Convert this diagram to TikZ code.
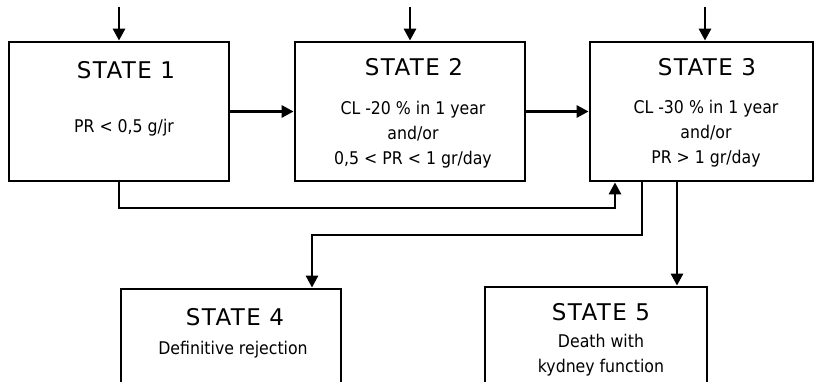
\documentclass[tikz,border=0pt]{standalone}
\usepackage{fontspec}
\setmainfont{DejaVu Sans}
\newfontfamily\condfont{DejaVu Sans Condensed}
\usetikzlibrary{arrows.meta}
\begin{document}
\begin{tikzpicture}[x=1pt,y=-1pt,
  box/.style={draw,line width=2.8pt,rectangle,inner sep=0pt},
  ttl/.style={font=\fontsize{23}{26}\selectfont\addfontfeatures{LetterSpace=6},inner sep=0pt},
  body/.style={font=\condfont\fontsize{17.5}{25}\selectfont,inner sep=0pt,align=center},
  conn/.style={line width=2.8pt,-{Triangle[length=12pt,width=12pt]}},
  plain/.style={line width=2.8pt}]
\clip (0,0) rectangle (815,382);
\fill[white] (0,0) rectangle (815,382);
% boxes
\node[box,minimum width=220pt,minimum height=139pt] (s1) at (119,111.5) {};
\node[box,minimum width=230pt,minimum height=139pt] (s2) at (410,111.5) {};
\node[box,minimum width=223pt,minimum height=139pt] (s3) at (701.5,111.5) {};
\node[box,minimum width=220pt,minimum height=140pt] (s4) at (231,359) {};
\node[box,minimum width=222pt,minimum height=140pt] (s5) at (596,357) {};
% texts
\node[ttl] (t1) at (126,70) {STATE 1};
\node[body] (b1) at (124,128) {PR < 0,5 g/jr};
\node[ttl] (t2) at (414,67) {STATE 2};
\node[body] (b2) at (413,135) {CL -20 \% in 1 year\\and/or\\0,5 < PR < 1 gr/day};
\node[ttl] (t3) at (707,67) {STATE 3};
\node[body] (b3) at (706,133.5) {CL -30 \% in 1 year\\and/or\\PR > 1 gr/day};
\node[ttl] (t4) at (235,317) {STATE 4};
\node[body] (b4) at (233,350) {Definitive rejection};
\node[ttl] (t5) at (601,312) {STATE 5};
\node[body] (b5) at (601,355.5) {Death with\\kydney function};
% incoming top arrows
\coordinate (in1) at (119,7);
\coordinate (in2) at (410,7);
\coordinate (in3) at (705,7);
\draw[conn] (in1) -- (s1.north);
\draw[conn] (in2) -- (s2.north);
\draw[conn] (in3) -- (in3 |- s3.north);
% horizontal
\draw[conn] (s1.east) -- (s2.west);
\draw[conn] (s2.east) -- (s3.west);
% loop 1 -> 3
\coordinate (l1) at (119,208);
\coordinate (l2) at (615,208);
\draw[conn] (s1.south) -- (l1) -- (l2) -- (l2 |- s3.south);
% 3 -> 4
\coordinate (m1) at (642,235);
\coordinate (m2) at (312,235);
\draw[conn] (m1 |- s3.south) -- (m1) -- (m2) -- (m2 |- s4.north);
% 3 -> 5
\coordinate (n1) at (677,200);
\draw[conn] (n1 |- s3.south) -- (n1 |- s5.north);
\end{tikzpicture}
\end{document}
